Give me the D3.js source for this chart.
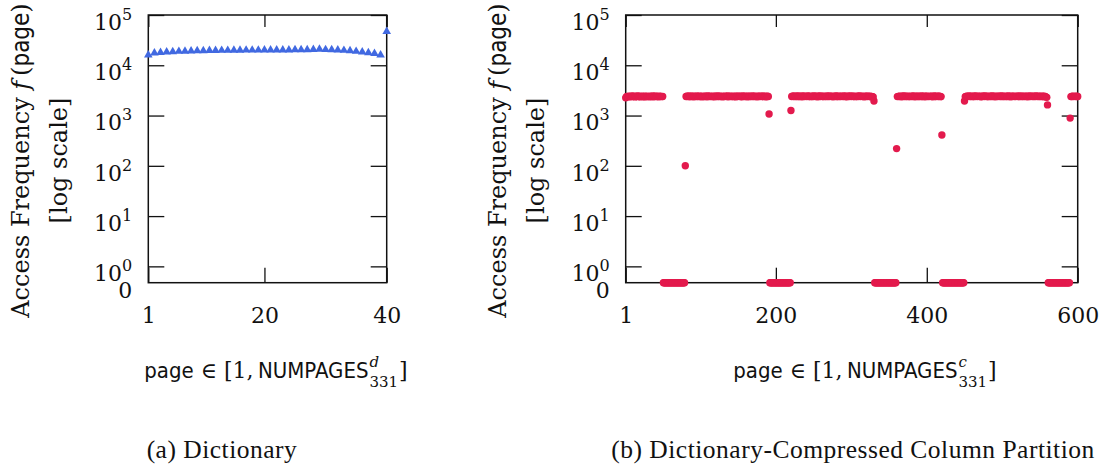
<!DOCTYPE html>
<html>
<head>
<meta charset="utf-8">
<script src="https://cdn.jsdelivr.net/npm/d3@7"></script>
<style>
  html, body { margin: 0; padding: 0; background: #fff; }
  svg { display: block; }
</style>
</head>
<body>
<svg id="fig" width="1108" height="468"></svg>
<script>
// ---------------------------------------------------------------------------
// Data
// ---------------------------------------------------------------------------

// Log-scale decades shown on the y axis (plus a "0" row at the bottom).
const yTickValues = [1, 10, 100, 1000, 10000, 100000];

// (a) Dictionary: access frequency per dictionary page, pages 1..40.
const dictXTicks = [1, 20, 40];
const dictAccess = [
  16000, 17500, 18000, 18300, 18600, 18900, 19100, 19300, 19400, 19500,
  19600, 19700, 19800, 19800, 19900, 19900, 20000, 20000, 20000, 20100,
  20100, 20100, 20200, 20200, 20300, 20300, 20400, 20600, 20800, 20500,
  20300, 20100, 19800, 19400, 18900, 18300, 17700, 17200, 16000, 47000
];

// (b) Dictionary-compressed column partition: access frequency per page, pages 1..600.
const partXTicks = [1, 200, 400, 600];
const partAccess = [
  // pages 1-50
  2250, 2380, 2410, 2370, 2430, 2400, 2360, 2420, 2380, 2440,
  2395, 2405, 2350, 2415, 2385, 2425, 2375, 2445, 2400, 2365,
  2410, 2390, 2430, 2370, 2400, 2420, 2355, 2395, 2435, 2380,
  2405, 2370, 2425, 2390, 2410, 2360, 2440, 2385, 2400, 2415,
  2375, 2430, 2395, 2405, 2365, 2420, 2390, 2410, 2380, 2400,
  // pages 51-79
  0, 0, 0, 0, 0, 0, 0, 0, 0, 0,
  0, 0, 0, 0, 0, 0, 0, 0, 0, 0,
  0, 0, 0, 0, 0, 0, 0, 0, 0,
  // page 80
  100,
  // pages 81-190
  2400, 2420, 2385, 2410, 2440, 2370, 2405, 2430, 2390, 2415,
  2360, 2425, 2395, 2405, 2380, 2445, 2410, 2375, 2420, 2400,
  2390, 2435, 2365, 2410, 2400, 2425, 2385, 2415, 2370, 2440,
  2405, 2395, 2420, 2380, 2410, 2430, 2360, 2400, 2425, 2390,
  2415, 2375, 2440, 2405, 2385, 2420, 2395, 2410, 2365, 2430,
  2400, 2380, 2425, 2410, 2390, 2445, 2370, 2405, 2420, 2385,
  2410, 2395, 2435, 2375, 2400, 2420, 2360, 2415, 2390, 2430,
  2405, 2385, 2425, 2400, 2370, 2440, 2410, 2395, 2420, 2380,
  2415, 2365, 2430, 2400, 2390, 2425, 2405, 2375, 2440, 2410,
  2385, 2420, 2395, 2410, 2370, 2435, 2400, 2415, 2380, 2425,
  2405, 2390, 2440, 2375, 2410, 2420, 2360, 2400, 2430, 2385,
  // page 191
  1070,
  // pages 192-219
  0, 0, 0, 0, 0, 0, 0, 0, 0, 0,
  0, 0, 0, 0, 0, 0, 0, 0, 0, 0,
  0, 0, 0, 0, 0, 0, 0, 0,
  // page 220
  1260,
  // pages 221-330
  2390, 2420, 2405, 2440, 2375, 2410, 2430, 2395, 2460, 2400,
  2385, 2425, 2410, 2370, 2445, 2400, 2420, 2390, 2435, 2405,
  2380, 2415, 2440, 2395, 2410, 2375, 2430, 2400, 2420, 2385,
  2450, 2405, 2390, 2425, 2370, 2415, 2400, 2440, 2385, 2410,
  2420, 2395, 2435, 2375, 2405, 2430, 2390, 2415, 2400, 2445,
  2380, 2420, 2405, 2395, 2430, 2365, 2410, 2425, 2390, 2440,
  2400, 2415, 2375, 2435, 2405, 2390, 2420, 2410, 2380, 2445,
  2395, 2425, 2400, 2370, 2430, 2415, 2390, 2410, 2440, 2385,
  2405, 2420, 2395, 2435, 2375, 2410, 2400, 2425, 2390, 2415,
  2440, 2380, 2405, 2430, 2395, 2410, 2365, 2420, 2400, 2435,
  2385, 2415, 2405, 2390, 2425, 2370, 2400, 2380, 2340, 1950,
  // pages 331-359
  0, 0, 0, 0, 0, 0, 0, 0, 0, 0,
  0, 0, 0, 0, 0, 0, 0, 0, 0, 0,
  0, 0, 0, 0, 0, 0, 0, 0, 0,
  // page 360
  220,
  // pages 361-419
  2380, 2410, 2395, 2430, 2405, 2370, 2420, 2400, 2440, 2385,
  2415, 2390, 2425, 2405, 2375, 2435, 2400, 2410, 2380, 2420,
  2395, 2445, 2405, 2370, 2415, 2390, 2430, 2400, 2385, 2420,
  2410, 2375, 2440, 2395, 2405, 2425, 2360, 2415, 2400, 2430,
  2390, 2410, 2380, 2435, 2405, 2395, 2420, 2370, 2410, 2445,
  2400, 2385, 2425, 2405, 2390, 2430, 2415, 2375, 2380,
  // page 420
  410,
  // pages 421-449
  0, 0, 0, 0, 0, 0, 0, 0, 0, 0,
  0, 0, 0, 0, 0, 0, 0, 0, 0, 0,
  0, 0, 0, 0, 0, 0, 0, 0, 0,
  // pages 450-560
  1950, 2360, 2400, 2420, 2385, 2410, 2440, 2395, 2405, 2430,
  2375, 2415, 2400, 2425, 2390, 2445, 2405, 2380, 2420, 2410,
  2395, 2435, 2370, 2400, 2425, 2415, 2385, 2440, 2405, 2390,
  2420, 2400, 2375, 2430, 2410, 2395, 2445, 2385, 2415, 2400,
  2425, 2370, 2410, 2435, 2390, 2405, 2420, 2380, 2440, 2400,
  2415, 2395, 2430, 2405, 2375, 2420, 2410, 2390, 2445, 2385,
  2400, 2425, 2365, 2415, 2405, 2435, 2395, 2410, 2380, 2420,
  2430, 2400, 2390, 2440, 2405, 2375, 2415, 2425, 2395, 2410,
  2385, 2435, 2400, 2420, 2370, 2410, 2445, 2395, 2405, 2430,
  2390, 2415, 2380, 2425, 2400, 2440, 2410, 2385, 2420, 2395,
  2405, 2430, 2375, 2415, 2400, 2390, 2420, 2380, 2350, 2300, 1630,
  // pages 561-589
  0, 0, 0, 0, 0, 0, 0, 0, 0, 0,
  0, 0, 0, 0, 0, 0, 0, 0, 0, 0,
  0, 0, 0, 0, 0, 0, 0, 0, 0,
  // page 590
  890,
  // pages 591-600
  2380, 2400, 2420, 2390, 2410, 2405, 2385, 2430, 2400, 2395
];

// ---------------------------------------------------------------------------
// Layout
// ---------------------------------------------------------------------------
const SERIF = "'DejaVu Serif', serif";
const SANS = "'DejaVu Sans Condensed', 'DejaVu Sans', sans-serif";
const CAPTION_SERIF = "'Liberation Serif', serif";

const plotTop = 15;
const plotBottom = 282.7;
// Zero counts sit on the bottom edge, a third of a decade below 10^0.
const yFloor = Math.pow(10, -0.325);

const panels = [
  {
    values: dictAccess, xTicks: dictXTicks, left: 148.3, right: 386.7,
    marker: "triangle", color: "#4169e1", sup: "d",
    labelCenter: 276, caption: "(a) Dictionary", captionCenter: 222
  },
  {
    values: partAccess, xTicks: partXTicks, left: 625.7, right: 1077.7,
    marker: "circle", color: "#e31a4d", sup: "c",
    labelCenter: 865, caption: "(b) Dictionary-Compressed Column Partition", captionCenter: 853
  }
];

const svg = d3.select("#fig");

const y = d3.scaleLog().domain([yFloor, 1e5]).range([plotBottom, plotTop]);
const yPos = v => y(v > 0 ? v : yFloor);

function styleAxis(sel) {
  sel.select(".domain").remove();
  sel.selectAll(".tick line").attr("stroke", "#111").attr("stroke-width", 1.3);
  sel.attr("font-family", SERIF).attr("font-size", 22).attr("fill", "#111");
  sel.selectAll(".tick text").attr("fill", "#111");
}

panels.forEach(p => {
  const g = svg.append("g");
  const x = d3.scaleLinear().domain([1, p.values.length]).range([p.left, p.right]);

  // Left axis: decade ticks pointing inward, labels 10^k and "0"
  const yAxisLeft = d3.axisLeft(y)
    .tickValues([yFloor, ...yTickValues])
    .tickSize(-16)
    .tickPadding(16)
    .tickFormat(d => d === yFloor ? "0" : "10");
  const gl = g.append("g").attr("transform", `translate(${p.left},0)`).call(yAxisLeft);
  styleAxis(gl);
  gl.selectAll(".tick").filter(d => d === yFloor).select("line").remove();
  gl.selectAll(".tick text")
    .attr("dy", null)
    .attr("y", 14.3)
    .each(function (d) {
      if (d === yFloor) return;
      d3.select(this).append("tspan")
        .attr("dy", -10)
        .attr("font-size", 16)
        .text(Math.round(Math.log10(d)));
    });

  // Mirrored ticks on the right edge
  const gr = g.append("g").attr("transform", `translate(${p.right},0)`)
    .call(d3.axisRight(y).tickValues(yTickValues).tickSize(-16).tickFormat(""));
  styleAxis(gr);

  // Bottom axis with labels
  const gb = g.append("g").attr("transform", `translate(0,${plotBottom})`)
    .call(d3.axisBottom(x).tickValues(p.xTicks).tickSize(-15).tickFormat(d3.format("d")));
  styleAxis(gb);
  gb.selectAll(".tick text").attr("dy", null).attr("y", 40);

  // Mirrored ticks on the top edge
  const gt = g.append("g").attr("transform", `translate(0,${plotTop})`)
    .call(d3.axisTop(x).tickValues(p.xTicks).tickSize(-12).tickFormat(""));
  styleAxis(gt);

  // Frame
  g.append("rect")
    .attr("x", p.left).attr("y", plotTop)
    .attr("width", p.right - p.left).attr("height", plotBottom - plotTop)
    .attr("fill", "none").attr("stroke", "#111").attr("stroke-width", 1.5);

  // Markers
  const pts = p.values.map((v, i) => ({ page: i + 1, v }));
  if (p.marker === "triangle") {
    const tri = d3.symbol().type(d3.symbolTriangle).size(32);
    g.append("g").selectAll("path").data(pts).join("path")
      .attr("d", tri)
      .attr("transform", d => `translate(${x(d.page)},${yPos(d.v)})`)
      .attr("fill", p.color);
  } else {
    g.append("g").selectAll("circle").data(pts).join("circle")
      .attr("cx", d => x(d.page))
      .attr("cy", d => yPos(d.v))
      .attr("r", 3.7)
      .attr("fill", p.color);
  }

  // Y-axis title, two lines
  const titleX1 = p.left - 119.3;
  const titleX2 = p.left - 81.3;
  const titleY = 160.5;
  const t1 = g.append("text")
    .attr("transform", `translate(${titleX1},${titleY}) rotate(-90)`)
    .attr("text-anchor", "middle")
    .attr("font-family", SERIF).attr("font-size", 24).attr("fill", "#111");
  t1.append("tspan").text("Access Frequency ");
  t1.append("tspan").attr("font-style", "italic").text("f");
  t1.append("tspan").text("\u2009(");
  t1.append("tspan").attr("font-family", SANS).text("page");
  t1.append("tspan").text(")");
  g.append("text")
    .attr("transform", `translate(${titleX2},${titleY}) rotate(-90)`)
    .attr("text-anchor", "middle")
    .attr("font-family", SERIF).attr("font-size", 24).attr("fill", "#111")
    .text("[log scale]");

  // X-axis title: page ∈ [1, NUMPAGES^sup_331]
  const xl = g.append("g");
  const base = 378;
  const tx = xl.append("text")
    .attr("x", 0).attr("y", base)
    .attr("font-family", SERIF).attr("font-size", 22).attr("fill", "#111");
  tx.append("tspan").attr("font-family", SANS).text("page");
  tx.append("tspan").text(" \u2208 [1,\u2009");
  tx.append("tspan").attr("font-family", SANS).text("NUMPAGES");
  const endMain = tx.node().getComputedTextLength();
  const supT = xl.append("text")
    .attr("x", endMain + 1).attr("y", base - 11)
    .attr("font-family", SERIF).attr("font-style", "italic").attr("font-size", 15).attr("fill", "#111")
    .text(p.sup);
  const subT = xl.append("text")
    .attr("x", endMain + 1).attr("y", base + 9)
    .attr("font-family", SERIF).attr("font-size", 15).attr("fill", "#111")
    .text("331");
  const scriptW = Math.max(supT.node().getComputedTextLength(), subT.node().getComputedTextLength());
  const closeT = xl.append("text")
    .attr("x", endMain + 2 + scriptW).attr("y", base)
    .attr("font-family", SERIF).attr("font-size", 22).attr("fill", "#111")
    .text("]");
  const totalW = endMain + 2 + scriptW + closeT.node().getComputedTextLength();
  xl.attr("transform", `translate(${p.labelCenter - totalW / 2},0)`);

  // Sub-figure caption
  g.append("text")
    .attr("x", p.captionCenter).attr("y", 458)
    .attr("text-anchor", "middle")
    .attr("font-family", CAPTION_SERIF).attr("font-size", 25.5)
    .attr("letter-spacing", 0.5).attr("fill", "#111")
    .text(p.caption);
});
</script>
</body>
</html>
